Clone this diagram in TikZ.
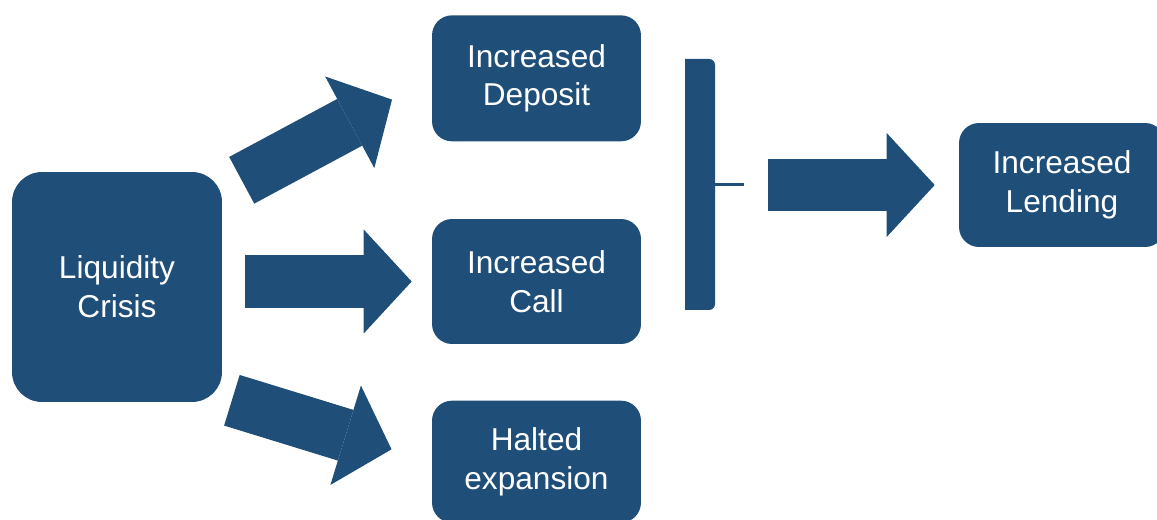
\documentclass[tikz,border=0pt]{standalone}
\usepackage{fontspec}
\setmainfont{Liberation Sans}
\usepackage{tikz}
\usetikzlibrary{arrows.meta, positioning, calc}
\definecolor{DeepBlue}{RGB}{31,78,121}

\begin{document}
\begin{tikzpicture}[
    x=0.02cm, y=-0.02cm,
    font=\fontsize{18pt}{22pt}\selectfont,
    box/.style={fill=DeepBlue, text=white, align=center, rounded corners=0.4cm,
        minimum width=4.18cm, minimum height=2.5cm, inner sep=0pt},
    bigarrow/.style={DeepBlue, line width=1.06cm,
        -{Triangle[length=0.96cm, width=2.08cm, line width=0pt]}},
]
\useasboundingbox (0,0) rectangle (1157,520);

% --- cause ---
\node[box, rounded corners=0.6cm, minimum width=4.2cm, minimum height=4.6cm]
    (crisis) at (117,287) {Liquidity\\Crisis};

% --- effects ---
\node[box] (call) at (536.5,281.5) {Increased\\Call};
\node[box, minimum height=2.52cm, above=1.54cm of call] (deposit) {Increased\\Deposit};
\node[box, minimum height=2.44cm, below=1.12cm of call] (halted) {Halted\\expansion};

% --- outcome ---
\node[box, minimum width=4.12cm, minimum height=2.48cm] (lending) at (1062,185) {Increased\\Lending};

% bracket joining deposit and call
\fill[DeepBlue] (685,59) -- (709,59) to[out=0, in=90] (715,65) -- (715,304)
    to[out=-90, in=0] (709,310) -- (685,310) -- cycle;
\coordinate (bracetip) at (744,185);
\draw[DeepBlue, line width=0.06cm] (714,185) -- (bracetip);

% --- block arrows ---
\draw[bigarrow, shorten <=0.44cm, shorten >=0.9cm] ([yshift=-0.38cm]crisis.north east) -- (deposit.west);
\draw[bigarrow, shorten <=0.46cm, shorten >=0.4cm] (crisis.east |- call.west) -- (call.west);
\draw[bigarrow, shorten <=0.2cm, shorten >=0.84cm] ([yshift=0.1cm]crisis.south east) -- (halted.west);
\draw[bigarrow, shorten <=0.48cm, shorten >=0.48cm] (bracetip) -- (lending.west);

\end{tikzpicture}
\end{document}
